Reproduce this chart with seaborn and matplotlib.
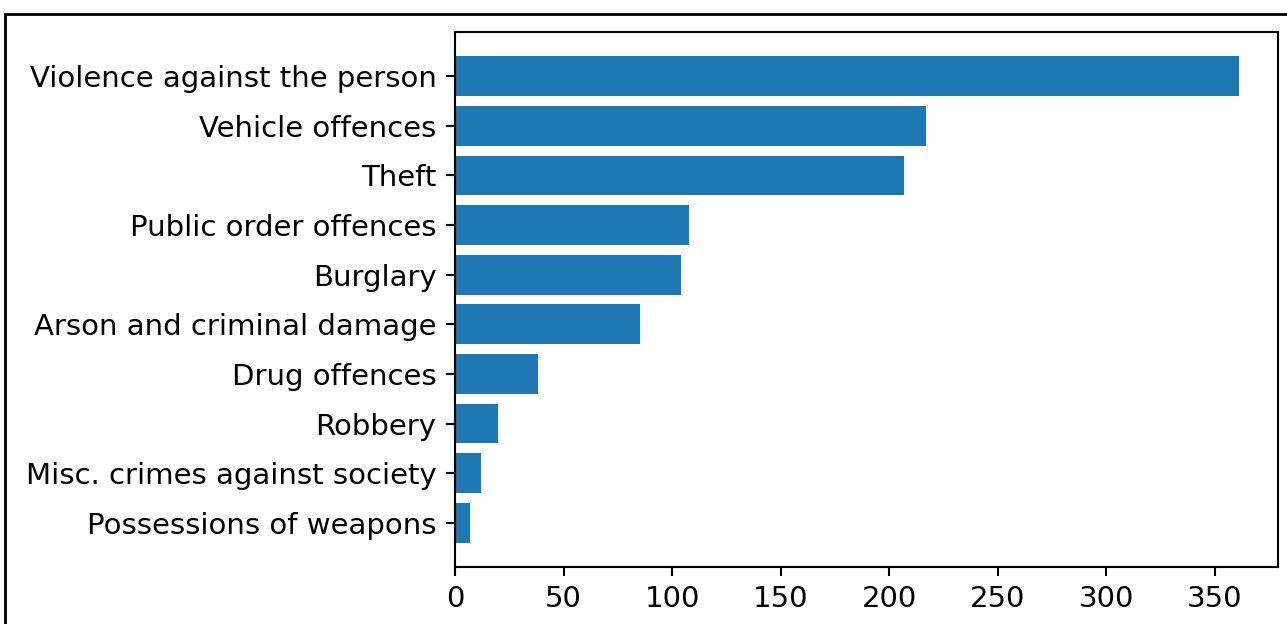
import matplotlib
matplotlib.use("Agg")
import matplotlib.pyplot as plt
from matplotlib.patches import Rectangle
import seaborn as sns
import pandas as pd

categories = [
    "Violence against the person",
    "Vehicle offences",
    "Theft",
    "Public order offences",
    "Burglary",
    "Arson and criminal damage",
    "Drug offences",
    "Robbery",
    "Misc. crimes against society",
    "Possessions of weapons",
]
counts = [361, 217, 207, 108, 104, 85, 38, 20, 12, 7]
xticks = [0, 50, 100, 150, 200, 250, 300, 350]

df = pd.DataFrame({"category": categories, "count": counts})

scale = 1.9
plt.rcParams["font.family"] = ["DejaVu Sans"]

fig = plt.figure(figsize=(12.87, 6.24), dpi=100)
ax = fig.add_axes([455/1287, 1-567/624, (1278-455)/1287, (567-32)/624])

sns.barplot(data=df, x="count", y="category", orient="h", color="#1f77b4",
            saturation=1, width=0.8, ax=ax)

ax.set_ylim(len(categories) - 1 + 0.4 + 0.49, -0.4 - 0.49)
ax.set_xlim(0, max(counts) * 1.05)
ax.set_xticks(xticks)
ax.set_xlabel("")
ax.set_ylabel("")
ax.tick_params(labelsize=21, length=3.5*scale, width=0.8*scale, pad=3.5*scale)
for s in ax.spines.values():
    s.set_linewidth(0.8*scale)
    s.set_color("black")

# outer figure frame (cropped screenshot)
fig.patches.append(Rectangle((5/1287, -0.2), 1.2, 1.2 + (1 - 14/624) - 1.0,
                             transform=fig.transFigure, fill=False,
                             edgecolor="black", linewidth=2.0))

fig.savefig("out.png", dpi=100)
